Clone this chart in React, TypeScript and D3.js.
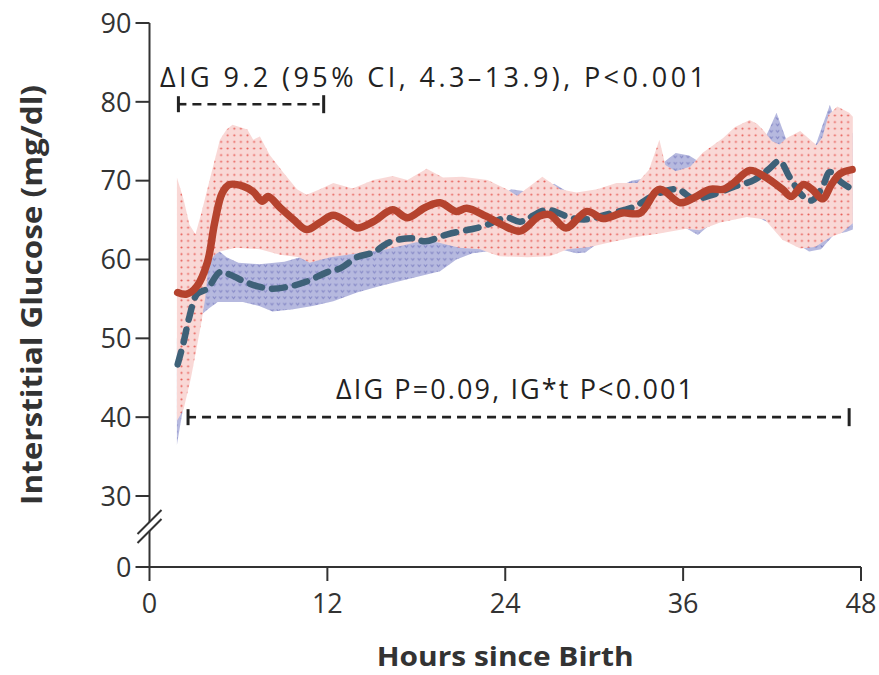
import React from "react";
import * as d3 from "d3";

type P = [number, number];

// ---------- data (hours since birth, mg/dl) ----------
const xTicks = [0, 12, 24, 36, 48];
const yTicks = [0, 30, 40, 50, 60, 70, 80, 90];

const redMean: P[] = [
  [1.9, 55.8], [2.5, 55.6], [3.2, 56.6], [3.9, 59.6], [4.4, 64.7], [4.9, 68.4], [5.4, 69.5],
  [6.3, 69.3], [7.0, 68.6], [7.6, 67.4], [8.0, 68.0], [8.8, 66.6], [9.7, 65.1], [10.6, 63.8],
  [11.5, 64.7], [12.4, 65.6], [13.3, 64.8], [14.0, 64.0], [15.1, 64.8], [16.4, 66.3], [17.4, 65.3],
  [18.6, 66.6], [19.6, 67.2], [20.7, 66.1], [21.4, 66.5], [22.7, 65.5], [23.8, 64.4], [25.0, 63.6],
  [26.3, 65.5], [27.0, 65.7], [28.1, 64.0], [29.5, 66.1], [30.6, 65.2], [31.9, 65.9], [33.1, 65.9],
  [34.4, 68.9], [35.8, 67.2], [36.7, 67.8], [37.8, 68.9], [38.7, 68.9], [39.4, 69.7], [40.5, 71.3],
  [41.6, 70.4], [42.7, 68.9], [43.3, 68.0], [44.1, 69.5], [44.7, 68.9], [45.4, 67.7], [46.0, 69.5],
  [46.6, 70.9], [47.4, 71.4],
];

const blueMean: P[] = [
  [1.9, 46.7], [2.3, 49.5], [2.7, 52.8], [3.2, 55.6], [3.9, 56.3], [4.75, 58.4], [5.4, 58.1],
  [6.4, 57.2], [7.3, 56.6], [8.3, 56.3], [9.5, 56.6], [10.6, 57.2], [12.0, 58.4], [12.9, 58.9],
  [14.0, 60.3], [15.1, 60.9], [16.2, 62.2], [17.8, 62.7], [18.6, 62.3], [20.1, 63.2], [21.6, 63.8],
  [22.5, 64.2], [24.1, 65.3], [25.0, 64.8], [26.8, 66.3], [28.4, 65.3], [29.5, 65.1], [30.8, 65.7],
  [32.7, 66.7], [34.0, 68.1], [35.6, 68.9], [36.7, 67.7], [37.8, 68.1], [39.4, 69.2], [40.8, 70.1],
  [41.8, 71.5], [42.5, 72.5], [43.2, 70.4], [44.1, 68.0], [44.7, 67.5], [45.4, 69.2], [45.9, 71.1],
  [46.6, 69.9], [47.4, 68.9],
];

const redUpper: P[] = [
  [1.85, 70.4], [2.3, 67.6], [2.7, 64.4], [3.1, 63.2], [3.5, 65.9], [4.1, 70.4], [4.75, 75.2],
  [5.2, 76.5], [5.6, 77.1], [6.6, 76.5], [7.0, 75.2], [7.45, 75.6], [8.1, 73.3], [9.0, 71.1],
  [9.95, 68.9], [10.6, 68.2], [11.5, 68.9], [12.4, 69.7], [13.7, 69.0], [15.1, 70.1], [16.4, 70.6],
  [17.4, 70.1], [18.7, 71.5], [19.8, 70.4], [21.1, 70.5], [22.8, 70.1], [24.1, 68.9], [24.8, 68.1],
  [26.5, 70.5], [27.7, 68.9], [28.8, 68.5], [30.2, 68.9], [31.5, 69.7], [32.9, 69.7], [33.7, 71.4],
  [34.4, 75.2], [34.8, 72.0], [35.5, 71.2], [36.5, 71.8], [37.3, 73.5], [38.7, 75.4], [39.5, 76.8],
  [40.5, 77.7], [41.0, 77.2], [41.5, 76.2], [42.0, 75.0], [42.5, 74.6], [43.0, 75.4], [43.9, 76.3],
  [45.0, 74.5], [45.4, 75.5], [45.8, 78.3], [46.4, 79.4], [47.2, 78.6], [47.45, 78.1],
];

const redLower: P[] = [
  [1.85, 39.5], [2.3, 41.0], [2.8, 45.0], [3.2, 49.0], [3.5, 52.0], [3.75, 55.0], [4.0, 59.5],
  [4.4, 60.6], [4.75, 61.0], [5.8, 61.5], [7.45, 61.3], [8.8, 60.6], [10.1, 60.3], [10.8, 59.6],
  [12.2, 60.3], [14.5, 60.9], [16.0, 61.3], [18.0, 62.2], [19.4, 62.2], [20.9, 61.5], [22.3, 61.3],
  [23.6, 60.4], [25.5, 60.3], [27.0, 60.4], [28.2, 61.3], [29.7, 61.6], [31.1, 62.2], [32.6, 62.8],
  [34.4, 63.3], [36.2, 63.9], [37.1, 63.7], [38.5, 64.7], [40.3, 65.4], [41.5, 65.1], [42.7, 62.5],
  [43.9, 61.4], [44.9, 61.6], [45.9, 62.8], [46.7, 63.4], [47.45, 64.6],
];

const blueUpper: P[] = [
  [1.85, 50.0], [2.3, 52.5], [2.8, 55.0], [3.2, 57.5], [3.6, 60.0], [4.0, 60.8], [4.6, 61.2],
  [5.2, 60.3], [6.0, 59.6], [7.4, 59.4], [9.1, 59.7], [10.4, 60.4], [11.5, 61.2], [13.0, 62.3],
  [14.5, 63.5], [16.0, 64.5], [18.0, 65.5], [20.0, 66.3], [22.0, 67.0], [23.5, 68.0], [24.4, 68.9],
  [25.2, 68.7], [26.3, 68.8], [27.3, 69.6], [28.2, 68.6], [29.5, 68.0], [31.0, 68.6], [32.5, 70.0],
  [33.2, 70.2], [34.0, 70.3], [34.8, 72.5], [35.5, 73.5], [36.4, 73.2], [37.0, 72.5], [37.8, 72.0],
  [39.0, 73.0], [40.5, 74.0], [41.3, 74.5], [41.8, 76.5], [42.3, 78.6], [42.8, 76.0], [43.2, 74.0],
  [44.0, 73.8], [44.6, 73.5], [45.0, 74.8], [45.4, 77.0], [45.9, 79.6], [46.3, 77.5], [47.45, 76.0],
];

const blueLower: P[] = [
  [1.85, 36.5], [2.3, 41.5], [2.8, 46.0], [3.2, 50.5], [3.5, 53.0], [4.0, 53.8], [4.6, 54.6],
  [6.3, 54.6], [7.4, 54.1], [8.3, 53.4], [9.7, 53.7], [11.0, 54.1], [12.4, 54.7], [14.0, 55.8],
  [15.5, 56.6], [17.4, 57.5], [19.6, 58.5], [20.7, 60.0], [21.8, 60.8], [23.5, 61.2], [25.5, 61.2],
  [27.5, 61.4], [28.8, 60.8], [29.4, 60.9], [30.5, 62.4], [32.0, 63.2], [34.0, 63.8], [36.0, 64.2],
  [37.0, 63.1], [37.8, 64.4], [38.5, 65.0], [40.5, 65.8], [42.0, 64.5], [43.5, 62.2], [44.5, 61.0],
  [45.3, 61.3], [46.2, 63.2], [47.0, 63.5], [47.45, 63.8],
];

const topNote = "\u0394IG 9.2 (95% CI, 4.3\u201313.9), P<0.001";
const bottomNote = "\u0394IG P=0.09, IG*t P<0.001";
const topBracket: P[] = [[1.95, 79.7], [11.75, 79.7]];
const bottomBracket: P[] = [[2.6, 40], [47.2, 40]];

// ---------- layout ----------
const W = 879;
const H = 675;
const FONT = "'Open Sans', 'Noto Sans', sans-serif";
const RED = "#b5432e";
const BLUE = "#3e6178";
const AX = "#333";

export default function App() {
  const x = d3.scaleLinear().domain([0, 48]).range([149.5, 861]);
  const y = d3.scaleLinear().domain([0, 30, 90]).range([567, 496, 23]);

  const poly = d3.line<P>().x((d) => x(d[0])).y((d) => y(d[1]));
  const band = (up: P[], lo: P[]) => poly(up.concat(lo.slice().reverse())) + "Z";
  const curve = d3
    .line<P>()
    .x((d) => x(d[0]))
    .y((d) => y(d[1]))
    .curve(d3.curveCatmullRom.alpha(0.5));

  const x0 = x(0);
  const yTop = y(90);
  const yZero = y(0);
  const brk1 = 522;
  const brk2 = 531;

  const bracket = (b: P[], key: string) => {
    const xa = x(b[0][0]);
    const xb = x(b[1][0]);
    const yy = y(b[0][1]);
    return (
      <g key={key} stroke="#222" fill="none">
        <line x1={xa} x2={xa + 8} y1={yy} y2={yy} strokeWidth={2.6} />
        <line x1={xa + 14} x2={xb - 4} y1={yy} y2={yy} strokeWidth={2.6} strokeDasharray="9 6" />
        <line x1={xa} x2={xa} y1={yy - 8} y2={yy + 8} strokeWidth={3} />
        <line x1={xb} x2={xb} y1={yy - 9} y2={yy + 9} strokeWidth={3} />
      </g>
    );
  };

  return (
    <div style={{ position: "absolute", left: 0, top: 0 }}>
      <svg width={W} height={H} viewBox={`0 0 ${W} ${H}`} style={{ display: "block", background: "#fff" }}>
        <defs>
          <pattern id="redDots" width={6.6} height={6.6} patternUnits="userSpaceOnUse">
            <rect width={6.6} height={6.6} fill="#f9d8d6" />
            <circle cx={3.3} cy={3.3} r={1.05} fill="#e8605a" />
          </pattern>
          <pattern id="blueVs" width={6.4} height={6.4} patternUnits="userSpaceOnUse">
            <rect width={6.4} height={6.4} fill="#b6b9df" />
            <path d="M1.6,2.2 L3.2,4.2 L4.8,2.2" stroke="#8588c6" strokeWidth={1} fill="none" />
          </pattern>
        </defs>

        {/* bands */}
        <path d={band(blueUpper, blueLower)} fill="url(#blueVs)" />
        <path d={band(redUpper, redLower)} fill="url(#redDots)" />

        {/* lines */}
        <path
          d={curve(blueMean) || ""}
          fill="none"
          stroke={BLUE}
          strokeWidth={6.5}
          strokeLinecap="round"
          strokeDasharray="13 10"
        />
        <path
          d={curve(redMean) || ""}
          fill="none"
          stroke={RED}
          strokeWidth={7.5}
          strokeLinecap="round"
          strokeLinejoin="round"
        />

        {/* annotations */}
        {bracket(topBracket, "tb")}
        {bracket(bottomBracket, "bb")}
        <text x={160} y={87} fontFamily={FONT} fontSize={27} fill="#222" textLength={545} lengthAdjust="spacing">
          {topNote}
        </text>
        <text x={336} y={399} fontFamily={FONT} fontSize={27} fill="#222" textLength={357} lengthAdjust="spacing">
          {bottomNote}
        </text>

        {/* y axis */}
        <g stroke={AX} strokeWidth={2} fill="none">
          <line x1={x0} x2={x0} y1={yTop} y2={brk1} />
          <line x1={x0} x2={x0} y1={brk2} y2={yZero} />
          <line x1={x0 - 12} x2={x0 + 12} y1={brk1 + 12} y2={brk1 - 12} />
          <line x1={x0 - 12} x2={x0 + 12} y1={brk2 + 12} y2={brk2 - 12} />
          <line x1={x0} x2={x(48)} y1={yZero} y2={yZero} />
          {yTicks.map((t) => (
            <line key={"yt" + t} x1={x0 - 14} x2={x0} y1={y(t)} y2={y(t)} />
          ))}
          {xTicks.map((t) => (
            <line key={"xt" + t} x1={x(t)} x2={x(t)} y1={yZero} y2={yZero + 14} />
          ))}
        </g>
        <g fontFamily={FONT} fontSize={27} fill="#333">
          {yTicks.map((t) => (
            <text key={"yl" + t} x={x0 - 18} y={y(t)} dy="0.36em" textAnchor="end">
              {t}
            </text>
          ))}
          {xTicks.map((t) => (
            <text key={"xl" + t} x={x(t)} y={613} textAnchor="middle">
              {t}
            </text>
          ))}
        </g>

        {/* titles */}
        <text
          x={x(24)}
          y={666}
          textAnchor="middle"
          fontFamily={FONT}
          fontWeight="bold"
          fontSize={27}
          fill="#333"
          textLength={257}
          lengthAdjust="spacingAndGlyphs"
        >
          Hours since Birth
        </text>
        <text
          transform={`translate(42,295) rotate(-90)`}
          textAnchor="middle"
          fontFamily={FONT}
          fontWeight="bold"
          fontSize={28}
          fill="#333"
          textLength={420}
          lengthAdjust="spacingAndGlyphs"
        >
          Interstitial Glucose (mg/dl)
        </text>
      </svg>
    </div>
  );
}
